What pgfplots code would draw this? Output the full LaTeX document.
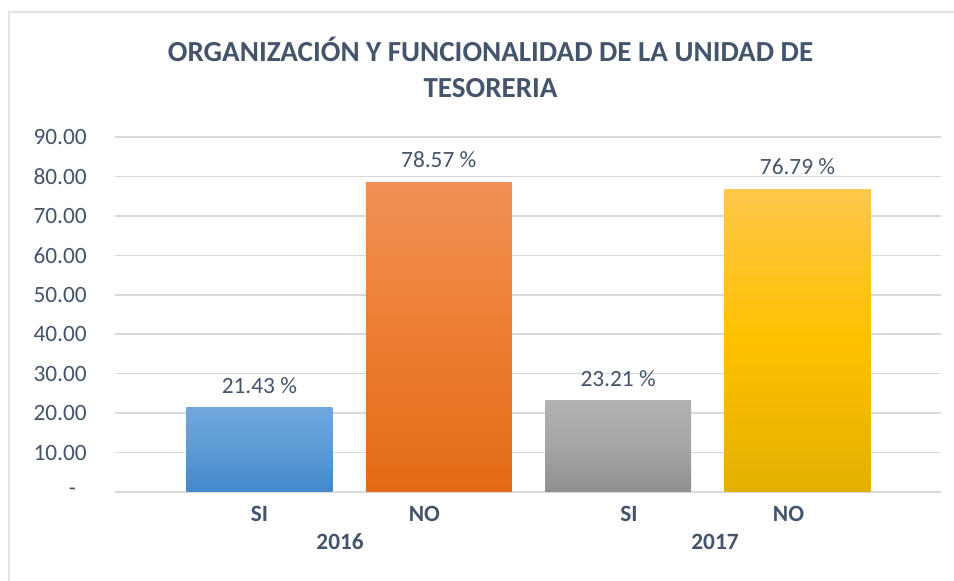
\documentclass[border=0pt]{standalone}
\usepackage{pgfplots}
\pgfplotsset{compat=1.18}
\usepackage{fontspec}
\setmainfont{Carlito}
\definecolor{txt}{HTML}{44546A}
\definecolor{gridc}{HTML}{D9D9D9}
\definecolor{bordc}{HTML}{E1E5EA}
\begin{document}
\begin{tikzpicture}
\path[use as bounding box] (0,0) rectangle (715.5pt,435.75pt);
\draw[bordc, line width=1.5pt] (6.75pt,0) -- (6.75pt,426.75pt) -- (715.5pt,426.75pt);
\node[anchor=base, text=txt, font=\fontsize{21.8}{26}\selectfont\bfseries] at (367.9pt,389.5pt) {ORGANIZACIÓN Y FUNCIONALIDAD DE LA UNIDAD DE};
\node[anchor=base, text=txt, font=\fontsize{21.8}{26}\selectfont\bfseries] at (367.9pt,362.5pt) {TESORERIA};
\begin{axis}[
  at={(86.25pt,66.75pt)}, anchor=south west,
  scale only axis, width=619.5pt, height=266.25pt,
  xmin=-0.805, xmax=3.80, ymin=0, ymax=90,
  /pgf/number format/assume math mode=true,
  axis line style={draw=none},
  major tick style={draw=none},
  ymajorgrids, grid style={gridc, line width=1.1pt},
  ytick={0,10,...,90},
  yticklabels={-\hspace*{8pt},10.00,20.00,30.00,40.00,50.00,60.00,70.00,80.00,90.00},
  yticklabel style={anchor=east, inner sep=0pt, xshift=-21pt, text=txt, font=\fontsize{17.5}{20}\selectfont},
  xtick={0,0.92,2.06,2.95},
  xticklabels={SI,NO,SI,NO},
  xticklabel style={anchor=center, inner sep=0pt, yshift=-16.5pt, text=txt, font=\fontsize{17.5}{20}\selectfont\bfseries},
  nodes near coords={\pgfmathprintnumber[fixed,fixed zerofill,precision=2]{\pgfplotspointmeta}~\%},
  every node near coord/.append style={anchor=center, yshift=16.5pt, text=txt, font=\fontsize{17.5}{20}\selectfont},
  clip=false,
]
\addplot[ybar, bar width=0.814, draw=none, top color={rgb,255:red,113;green,167;blue,222}, bottom color={rgb,255:red,66;green,136;blue,202}, middle color={rgb,255:red,91;green,155;blue,213}] coordinates {(0,21.43)};
\addplot[ybar, bar width=0.814, draw=none, top color={rgb,255:red,241;green,145;blue,86}, bottom color={rgb,255:red,227;green,106;blue,22}, middle color={rgb,255:red,237;green,125;blue,49}] coordinates {(1,78.57)};
\addplot[ybar, bar width=0.814, draw=none, top color={rgb,255:red,178;green,178;blue,178}, bottom color={rgb,255:red,143;green,143;blue,143}, middle color={rgb,255:red,165;green,165;blue,165}] coordinates {(2,23.21)};
\addplot[ybar, bar width=0.814, draw=none, top color={rgb,255:red,255;green,200;blue,74}, bottom color={rgb,255:red,226;green,176;blue,0}, middle color={rgb,255:red,255;green,192;blue,0}] coordinates {(3,76.79)};
\node[anchor=base, text=txt, font=\fontsize{17.5}{20}\selectfont\bfseries, yshift=-43.5pt] at (axis cs:0.45,0) {2016};
\node[anchor=base, text=txt, font=\fontsize{17.5}{20}\selectfont\bfseries, yshift=-43.5pt] at (axis cs:2.54,0) {2017};
\end{axis}
\end{tikzpicture}
\end{document}
